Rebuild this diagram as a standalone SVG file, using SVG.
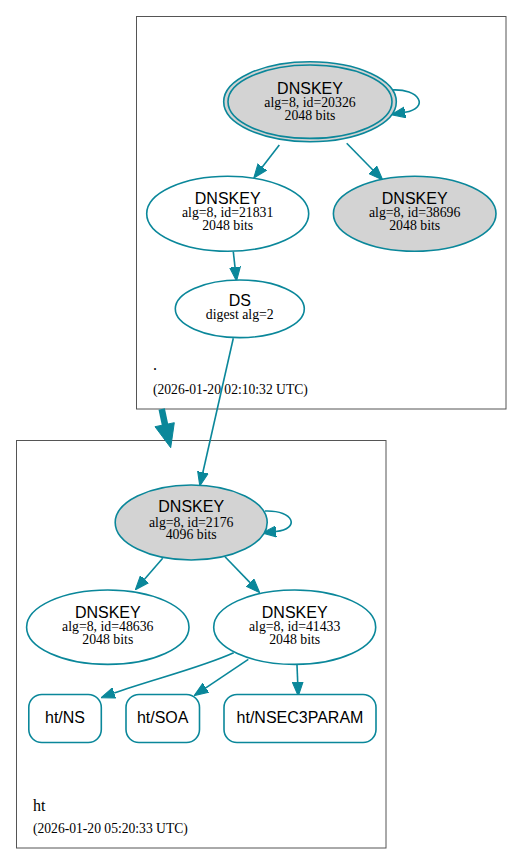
<svg xmlns="http://www.w3.org/2000/svg" width="523" height="865" viewBox="0 0 523 865">
<defs>
<style>
.cl{fill:#ffffff;stroke:#555555;stroke-width:1}
.nd{stroke:#0a879a;stroke-width:1.6}
.w{fill:#ffffff}
.g{fill:#d3d3d3}
.t{font-family:"Liberation Sans",Arial,sans-serif;font-size:16px;fill:#000;text-anchor:middle}
.s{font-family:"Liberation Serif","Times New Roman",serif;font-size:13.8px;fill:#000;text-anchor:middle}
.lb{font-family:"Liberation Serif","Times New Roman",serif;font-size:16px;fill:#000}
.ts{font-family:"Liberation Serif","Times New Roman",serif;font-size:13.6px;fill:#000}
.e{fill:none;stroke:#0a879a;stroke-width:1.6;marker-end:url(#ah)}
</style>
<marker id="ah" markerUnits="userSpaceOnUse" markerWidth="14" markerHeight="12" refX="0" refY="5" orient="auto" viewBox="0 0 13 10">
<path d="M0,0 L13,5 L0,10 Z" fill="#0a879a" stroke="#0a879a" stroke-width="1"/>
</marker>
</defs>
<rect width="523" height="865" fill="#ffffff"/>
<g id="cluster_root">
<rect class="cl" x="136.5" y="16.5" width="369.5" height="392.5"/>
<text class="lb" x="153" y="370">.</text>
<text class="ts" x="153" y="394.3">(2026-01-20 02:10:32 UTC)</text>
</g>
<g id="cluster_ht">
<rect class="cl" x="16.5" y="440.5" width="369.5" height="407.5"/>
<text class="lb" x="33" y="810.7">ht</text>
<text class="ts" x="33" y="833.3">(2026-01-20 05:20:33 UTC)</text>
</g>
<g id="connectors">
<path class="e" d="M279.3,145 L262.3,167"/>
<path class="e" d="M346.7,143.3 L372.9,170"/>
<path class="e" d="M233.3,251.7 L235,267.1"/>
<path class="e" d="M233.3,338.3 L202.9,472.3"/>
<path class="e" d="M391,90 C420,88 430,108 405,112.3"/>
<path class="e" d="M162.7,558.3 L144.5,579.2"/>
<path class="e" d="M225,556.7 L250,582.6"/>
<path class="e" d="M265,511 C295,510 300,529 276,531.5"/>
<path class="e" d="M233.7,652.7 C200,668 150,680 114.2,693"/>
<path class="e" d="M248.3,659.3 L205.8,687.8"/>
<path class="e" d="M297,665 L297.7,682"/>
<path d="M161.7,409 L165.3,426" fill="none" stroke="#0a879a" stroke-width="6.5"/>
<polygon points="155,426.7 174.3,422.7 170.7,447.7" fill="#0a879a" stroke="#0a879a" stroke-width="1"/>
</g>
<g id="dnskey_20326">
<ellipse class="nd g" cx="310" cy="101.7" rx="86.3" ry="40"/>
<ellipse class="nd g" cx="310" cy="101.7" rx="82" ry="36.7"/>
<text class="t" x="310" y="94.3">DNSKEY</text>
<text class="s" x="310" y="107.3">alg=8, id=20326</text>
<text class="s" x="310" y="120">2048 bits</text>
</g>
<g id="dnskey_21831">
<ellipse class="nd w" cx="227.7" cy="213.8" rx="81" ry="37.5"/>
<text class="t" x="227.7" y="204">DNSKEY</text>
<text class="s" x="227.7" y="217.3">alg=8, id=21831</text>
<text class="s" x="227.7" y="230">2048 bits</text>
</g>
<g id="dnskey_38696">
<ellipse class="nd g" cx="414.7" cy="213.8" rx="81.3" ry="37.5"/>
<text class="t" x="414.7" y="204">DNSKEY</text>
<text class="s" x="414.7" y="217.3">alg=8, id=38696</text>
<text class="s" x="414.7" y="230">2048 bits</text>
</g>
<g id="ds_root">
<ellipse class="nd w" cx="239.8" cy="308.8" rx="64.5" ry="28.8"/>
<text class="t" x="239.8" y="305.7">DS</text>
<text class="s" x="239.8" y="319.3">digest alg=2</text>
</g>
<g id="dnskey_2176">
<ellipse class="nd g" cx="191.2" cy="522.5" rx="76" ry="37.5"/>
<text class="t" x="191.2" y="512.3">DNSKEY</text>
<text class="s" x="191.2" y="526.7">alg=8, id=2176</text>
<text class="s" x="191.2" y="539.3">4096 bits</text>
</g>
<g id="dnskey_48636">
<ellipse class="nd w" cx="107.8" cy="627.2" rx="81.2" ry="37.2"/>
<text class="t" x="107.8" y="618.3">DNSKEY</text>
<text class="s" x="107.8" y="631">alg=8, id=48636</text>
<text class="s" x="107.8" y="644.3">2048 bits</text>
</g>
<g id="dnskey_41433">
<ellipse class="nd w" cx="294.7" cy="627.2" rx="81" ry="37.2"/>
<text class="t" x="294.7" y="618.3">DNSKEY</text>
<text class="s" x="294.7" y="631">alg=8, id=41433</text>
<text class="s" x="294.7" y="644.3">2048 bits</text>
</g>
<g id="rr_ns">
<rect class="nd w" x="28.8" y="694.5" width="72.5" height="48" rx="13" ry="13"/>
<text class="t" x="65" y="723">ht/NS</text>
</g>
<g id="rr_soa">
<rect class="nd w" x="126" y="694.5" width="73.5" height="48" rx="13" ry="13"/>
<text class="t" x="162.7" y="723">ht/SOA</text>
</g>
<g id="rr_nsec3param">
<rect class="nd w" x="224" y="694.5" width="152" height="48" rx="13" ry="13"/>
<text class="t" x="300" y="723">ht/NSEC3PARAM</text>
</g>
</svg>
